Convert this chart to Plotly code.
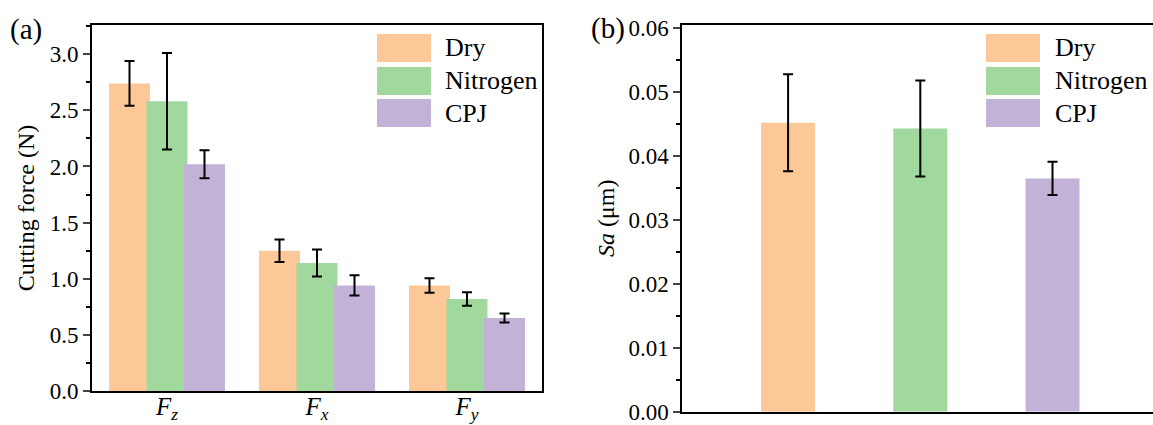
import plotly.graph_objects as go

# ---------------- data ----------------
force_categories = ["<i>F</i><sub><i>z</i></sub>", "<i>F</i><sub><i>x</i></sub>", "<i>F</i><sub><i>y</i></sub>"]
dry_force = [2.74, 1.25, 0.94]
dry_force_err = [0.20, 0.10, 0.065]
nitrogen_force = [2.58, 1.14, 0.82]
nitrogen_force_err = [0.43, 0.12, 0.06]
cpj_force = [2.02, 0.94, 0.65]
cpj_force_err = [0.125, 0.09, 0.04]

sa_categories = ["Dry", "Nitrogen", "CPJ"]
sa_values = [0.0452, 0.0443, 0.0365]
sa_err = [0.0076, 0.0075, 0.0026]

series_names = ["Dry", "Nitrogen", "CPJ"]
colors = ["#FCC897", "#A0D89E", "#C3B2D7"]

FONT = "Liberation Serif, DejaVu Serif, serif"
W, H = 1153, 425

fig = go.Figure()

# ---------------- panel (a) ----------------
bw_a = 0.273
centers_a = [-0.25, 0.0, 0.25]
for name, vals, errs, col, c in zip(series_names,
                                   [dry_force, nitrogen_force, cpj_force],
                                   [dry_force_err, nitrogen_force_err, cpj_force_err],
                                   colors, centers_a):
    fig.add_trace(go.Bar(
        x=force_categories, y=vals, name=name,
        width=bw_a, offset=c - bw_a / 2,
        marker=dict(color=col, line=dict(width=0)),
        error_y=dict(type="data", array=errs, visible=True, color="black",
                     thickness=2, width=5),
        xaxis="x", yaxis="y", showlegend=False,
    ))

# ---------------- panel (b) ----------------
bw_b = 0.408
for cat, v, e, col in zip(sa_categories, sa_values, sa_err, colors):
    fig.add_trace(go.Bar(
        x=[cat], y=[v], name=cat, width=bw_b,
        marker=dict(color=col, line=dict(width=0)),
        error_y=dict(type="data", array=[e], visible=True, color="black",
                     thickness=2, width=5),
        xaxis="x2", yaxis="y2", showlegend=False,
    ))

axis_common = dict(showline=True, linecolor="black", linewidth=2,
                   showgrid=False, zeroline=False, automargin=False,
                   tickfont=dict(family=FONT, size=23, color="black"))

def px(x):
    return x / W

def py(y):
    return (H - y) / H

fig.update_layout(
    width=W, height=H,
    margin=dict(l=0, r=0, t=0, b=0, autoexpand=False),
    paper_bgcolor="white", plot_bgcolor="white",
    barmode="overlay",
    font=dict(family=FONT, color="black", size=23),
    xaxis=dict(domain=[px(92), px(542)], range=[-0.5, 2.5], mirror=True,
               ticks="", type="category", anchor="y", ticklabelstandoff=-8,
               **{**axis_common, "tickfont": dict(family=FONT, size=25, color="black")}),
    yaxis=dict(domain=[py(391), py(25)], range=[0, 3.26], mirror=True,
               ticks="outside", ticklen=7, tickwidth=2, dtick=0.5, tickformat=".1f",
               minor=dict(ticks="outside", ticklen=4, tickwidth=2, dtick=0.25, tickcolor="black"),
               title=dict(text="Cutting force (N)", font=dict(family=FONT, size=24, color="black"),
                          standoff=8),
               anchor="x", **axis_common),
    xaxis2=dict(domain=[px(682.3), 1.0], range=[-0.8, 2.76], mirror=True,
                ticks="", showticklabels=False, type="category", anchor="y2",
                **axis_common),
    yaxis2=dict(domain=[py(411.7), py(25)], range=[0, 0.0605], mirror=False,
                ticks="outside", ticklen=7, tickwidth=2, dtick=0.01, tickformat=".2f",
                minor=dict(ticks="outside", ticklen=4, tickwidth=2, dtick=0.005, tickcolor="black"),
                title=dict(text="<i>Sa</i> (μm)", font=dict(family=FONT, size=24, color="black"),
                           standoff=7),
                anchor="x2", **axis_common),
)

# ---------------- custom legends ----------------
shapes = []
annotations = []
legend_rows = [(34, 62), (67, 95), (99, 127)]
for (x0, x1, xt) in [(377, 431, 443), (986, 1040, 1053)]:
    for (y0, y1), name, col in zip(legend_rows, series_names, colors):
        shapes.append(dict(type="rect", xref="paper", yref="paper",
                           x0=px(x0), x1=px(x1), y0=py(y1), y1=py(y0),
                           fillcolor=col, line=dict(width=0)))
        annotations.append(dict(xref="paper", yref="paper", x=px(xt), y=py((y0 + y1) / 2),
                                text=name, showarrow=False, xanchor="left", yanchor="middle",
                                font=dict(family=FONT, size=26, color="black")))

annotations.append(dict(xref="paper", yref="paper", x=px(8), y=py(30), text="(a)",
                        showarrow=False, xanchor="left", yanchor="middle",
                        font=dict(family=FONT, size=29, color="black")))
annotations.append(dict(xref="paper", yref="paper", x=px(589), y=py(28), text="(b)",
                        showarrow=False, xanchor="left", yanchor="middle",
                        font=dict(family=FONT, size=29, color="black")))

fig.update_layout(shapes=shapes, annotations=annotations)

fig.write_html("out.html")
